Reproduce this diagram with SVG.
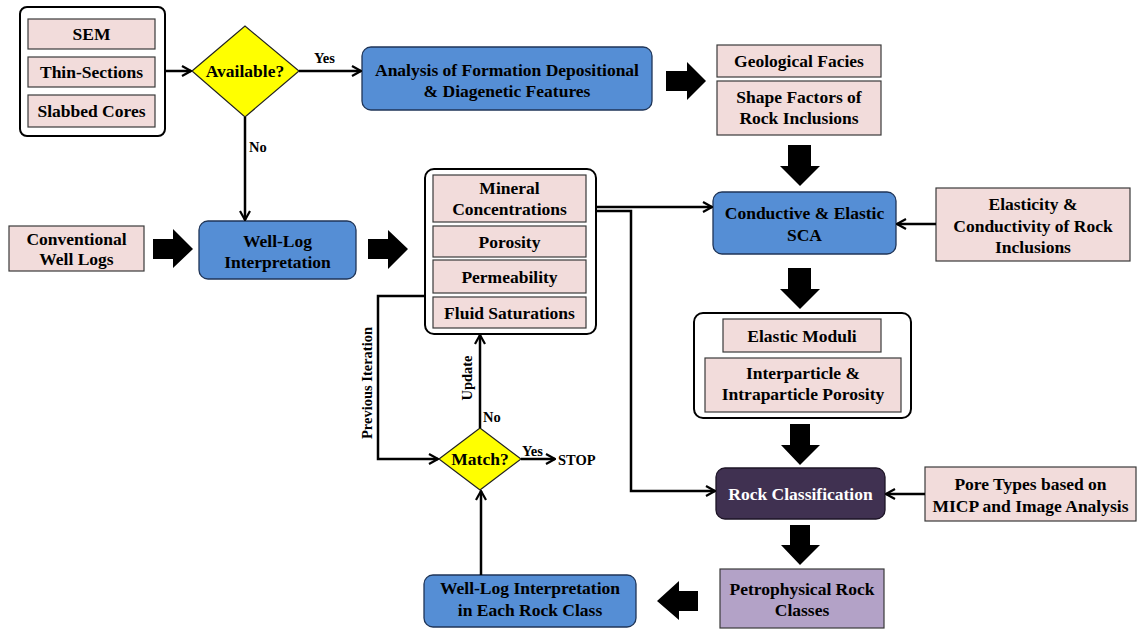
<svg xmlns="http://www.w3.org/2000/svg" width="1138" height="629" viewBox="0 0 1138 629">
  <defs>
    <marker id="arr" viewBox="0 0 12 12" refX="11" refY="6" markerWidth="12" markerHeight="12" markerUnits="userSpaceOnUse" orient="auto">
      <path d="M2,1 L11,6 L2,11" fill="none" stroke="#000" stroke-width="2.2"/>
    </marker>
    <style>
      .t { font-family: "Liberation Serif", "Times New Roman", serif; font-weight: bold; font-size: 17.5px; fill: #000; text-anchor: middle; }
      .lbl { font-family: "Liberation Serif", "Times New Roman", serif; font-weight: bold; font-size: 14.5px; fill: #000; }
      .w { fill: #fff; }
      .pink { fill: #f2dcdb; stroke: #3a3a3a; stroke-width: 1.2; }
      .blue { fill: #558ed5; stroke: #1f3558; stroke-width: 1.3; }
      .dec { fill: #ffff00; stroke: #222; stroke-width: 1.2; }
      .cont { fill: #fff; stroke: #000; stroke-width: 2; }
      .dark { fill: #403151; stroke: #1d1426; stroke-width: 1.3; }
      .purple { fill: #b3a2c7; stroke: #3a3a3a; stroke-width: 1.2; }
      .ln { fill: none; stroke: #000; stroke-width: 2.5; }
      .blk { fill: #000; }
    </style>
  </defs>

  <!-- Core data sources -->
  <g id="core-data">
    <rect class="cont" x="20" y="7" width="145" height="129" rx="7"/>
    <rect class="pink" x="28" y="19" width="127" height="30"/>
    <text class="t" x="91.5" y="40">SEM</text>
    <rect class="pink" x="28" y="57" width="127" height="30"/>
    <text class="t" x="91.5" y="78">Thin-Sections</text>
    <rect class="pink" x="28" y="95" width="127" height="32"/>
    <text class="t" x="91.5" y="117">Slabbed Cores</text>
  </g>

  <g id="available">
    <polygon class="dec" points="192,71 245,26 299,71 245,117"/>
    <text class="t" x="245" y="77">Available?</text>
  </g>

  <g id="analysis">
    <rect class="blue" x="362" y="47" width="290" height="63" rx="9"/>
    <text class="t" x="507" y="76">Analysis of Formation Depositional</text>
    <text class="t" x="507" y="97">&amp; Diagenetic Features</text>
  </g>

  <g id="geo-facies">
    <rect class="pink" x="717" y="45" width="164" height="32"/>
    <text class="t" x="799" y="67">Geological Facies</text>
  </g>
  <g id="shape-factors">
    <rect class="pink" x="717" y="81" width="164" height="54"/>
    <text class="t" x="799" y="103">Shape Factors of</text>
    <text class="t" x="799" y="124">Rock Inclusions</text>
  </g>

  <g id="sca">
    <rect class="blue" x="713" y="192" width="183" height="62" rx="9"/>
    <text class="t" x="804.5" y="219">Conductive &amp; Elastic</text>
    <text class="t" x="804.5" y="241">SCA</text>
  </g>

  <g id="inclusion-props">
    <rect class="pink" x="936" y="188" width="194" height="73"/>
    <text class="t" x="1033" y="210">Elasticity &amp;</text>
    <text class="t" x="1033" y="232">Conductivity of Rock</text>
    <text class="t" x="1033" y="253">Inclusions</text>
  </g>

  <g id="conv-logs">
    <rect class="pink" x="9" y="226" width="135" height="45"/>
    <text class="t" x="76.5" y="245">Conventional</text>
    <text class="t" x="76.5" y="265">Well Logs</text>
  </g>

  <g id="well-log">
    <rect class="blue" x="199" y="221" width="157" height="58" rx="9"/>
    <text class="t" x="277.5" y="247">Well-Log</text>
    <text class="t" x="277.5" y="268">Interpretation</text>
  </g>

  <g id="log-outputs">
    <rect class="cont" x="425" y="169" width="171" height="165" rx="9"/>
    <rect class="pink" x="433" y="175" width="153" height="47"/>
    <text class="t" x="509.5" y="194">Mineral</text>
    <text class="t" x="509.5" y="215">Concentrations</text>
    <rect class="pink" x="433" y="226" width="153" height="31"/>
    <text class="t" x="509.5" y="248">Porosity</text>
    <rect class="pink" x="433" y="260" width="153" height="33"/>
    <text class="t" x="509.5" y="283">Permeability</text>
    <rect class="pink" x="433" y="297" width="153" height="31"/>
    <text class="t" x="509.5" y="319">Fluid Saturations</text>
  </g>

  <g id="sca-outputs">
    <rect class="cont" x="694" y="313" width="217" height="105" rx="9"/>
    <rect class="pink" x="723" y="319" width="158" height="33"/>
    <text class="t" x="802" y="342">Elastic Moduli</text>
    <rect class="pink" x="705" y="358" width="196" height="54"/>
    <text class="t" x="803" y="379">Interparticle &amp;</text>
    <text class="t" x="803" y="400">Intraparticle Porosity</text>
  </g>

  <g id="rock-class">
    <rect class="dark" x="716" y="468" width="169" height="51" rx="9"/>
    <text class="t w" x="800.5" y="500">Rock Classification</text>
  </g>

  <g id="pore-types">
    <rect class="pink" x="925" y="467" width="211" height="54"/>
    <text class="t" x="1030.5" y="490">Pore Types based on</text>
    <text class="t" x="1030.5" y="512">MICP and Image Analysis</text>
  </g>

  <g id="petro-classes">
    <rect class="purple" x="720" y="569" width="164" height="59"/>
    <text class="t" x="802" y="595">Petrophysical Rock</text>
    <text class="t" x="802" y="616">Classes</text>
  </g>

  <g id="well-log-class">
    <rect class="blue" x="424" y="575" width="212" height="52" rx="9"/>
    <text class="t" x="530" y="594">Well-Log Interpretation</text>
    <text class="t" x="530" y="616">in Each Rock Class</text>
  </g>

  <g id="match">
    <polygon class="dec" points="439,459 480,428 521,459 480,490"/>
    <text class="t" x="480" y="465">Match?</text>
  </g>

  <g id="stop">
    <text class="lbl" x="558" y="465">STOP</text>
  </g>

  <!-- Connectors -->
  <g id="connectors">
    <line class="ln" x1="165" y1="71" x2="191" y2="71" marker-end="url(#arr)"/>
    <line class="ln" x1="299" y1="71" x2="361" y2="71" marker-end="url(#arr)"/>
    <line class="ln" x1="245" y1="117" x2="245" y2="220" marker-end="url(#arr)" stroke-width="2"/>
    <line class="ln" x1="596" y1="207" x2="712" y2="207" marker-end="url(#arr)"/>
    <polyline class="ln" points="596,211 631,211 631,491 715,491" marker-end="url(#arr)"/>
    <line class="ln" x1="936" y1="224" x2="897" y2="224" marker-end="url(#arr)"/>
    <line class="ln" x1="925" y1="494" x2="886" y2="494" marker-end="url(#arr)"/>
    <polyline class="ln" points="425,296 378,296 378,459 438,459" marker-end="url(#arr)"/>
    <line class="ln" x1="480" y1="428" x2="480" y2="335" marker-end="url(#arr)"/>
    <line class="ln" x1="521" y1="459" x2="555" y2="459" marker-end="url(#arr)"/>
    <line class="ln" x1="481" y1="575" x2="481" y2="491" marker-end="url(#arr)"/>

    <!-- block arrows -->
    <polygon class="blk" points="666,71 687,71 687,62 706,81 687,100 687,91 666,91"/>
    <polygon class="blk" points="153,239 173,239 173,229 193,249 173,268 173,259 153,259"/>
    <polygon class="blk" points="368,239 388,239 388,230 408,249 388,269 388,259 368,259"/>
    <polygon class="blk" points="788,145 811,145 811,166 820,166 800,186 780,166 788,166"/>
    <polygon class="blk" points="788,268 811,268 811,289 820,289 800,309 780,289 788,289"/>
    <polygon class="blk" points="790,424 810,424 810,445 820,445 800,465 781,445 790,445"/>
    <polygon class="blk" points="790,525 810,525 810,545 820,545 800,565 781,545 790,545"/>
    <polygon class="blk" points="698,591 679,591 679,581 657,601 679,620 679,611 698,611"/>

    <!-- labels -->
    <text class="lbl" x="314" y="63">Yes</text>
    <text class="lbl" x="249" y="152">No</text>
    <text class="lbl" x="483" y="422">No</text>
    <text class="lbl" x="522" y="456">Yes</text>
    <text class="lbl" text-anchor="middle" transform="translate(472,378) rotate(-90)">Update</text>
    <text class="lbl" text-anchor="middle" transform="translate(372,383) rotate(-90)">Previous Iteration</text>
  </g>
</svg>
